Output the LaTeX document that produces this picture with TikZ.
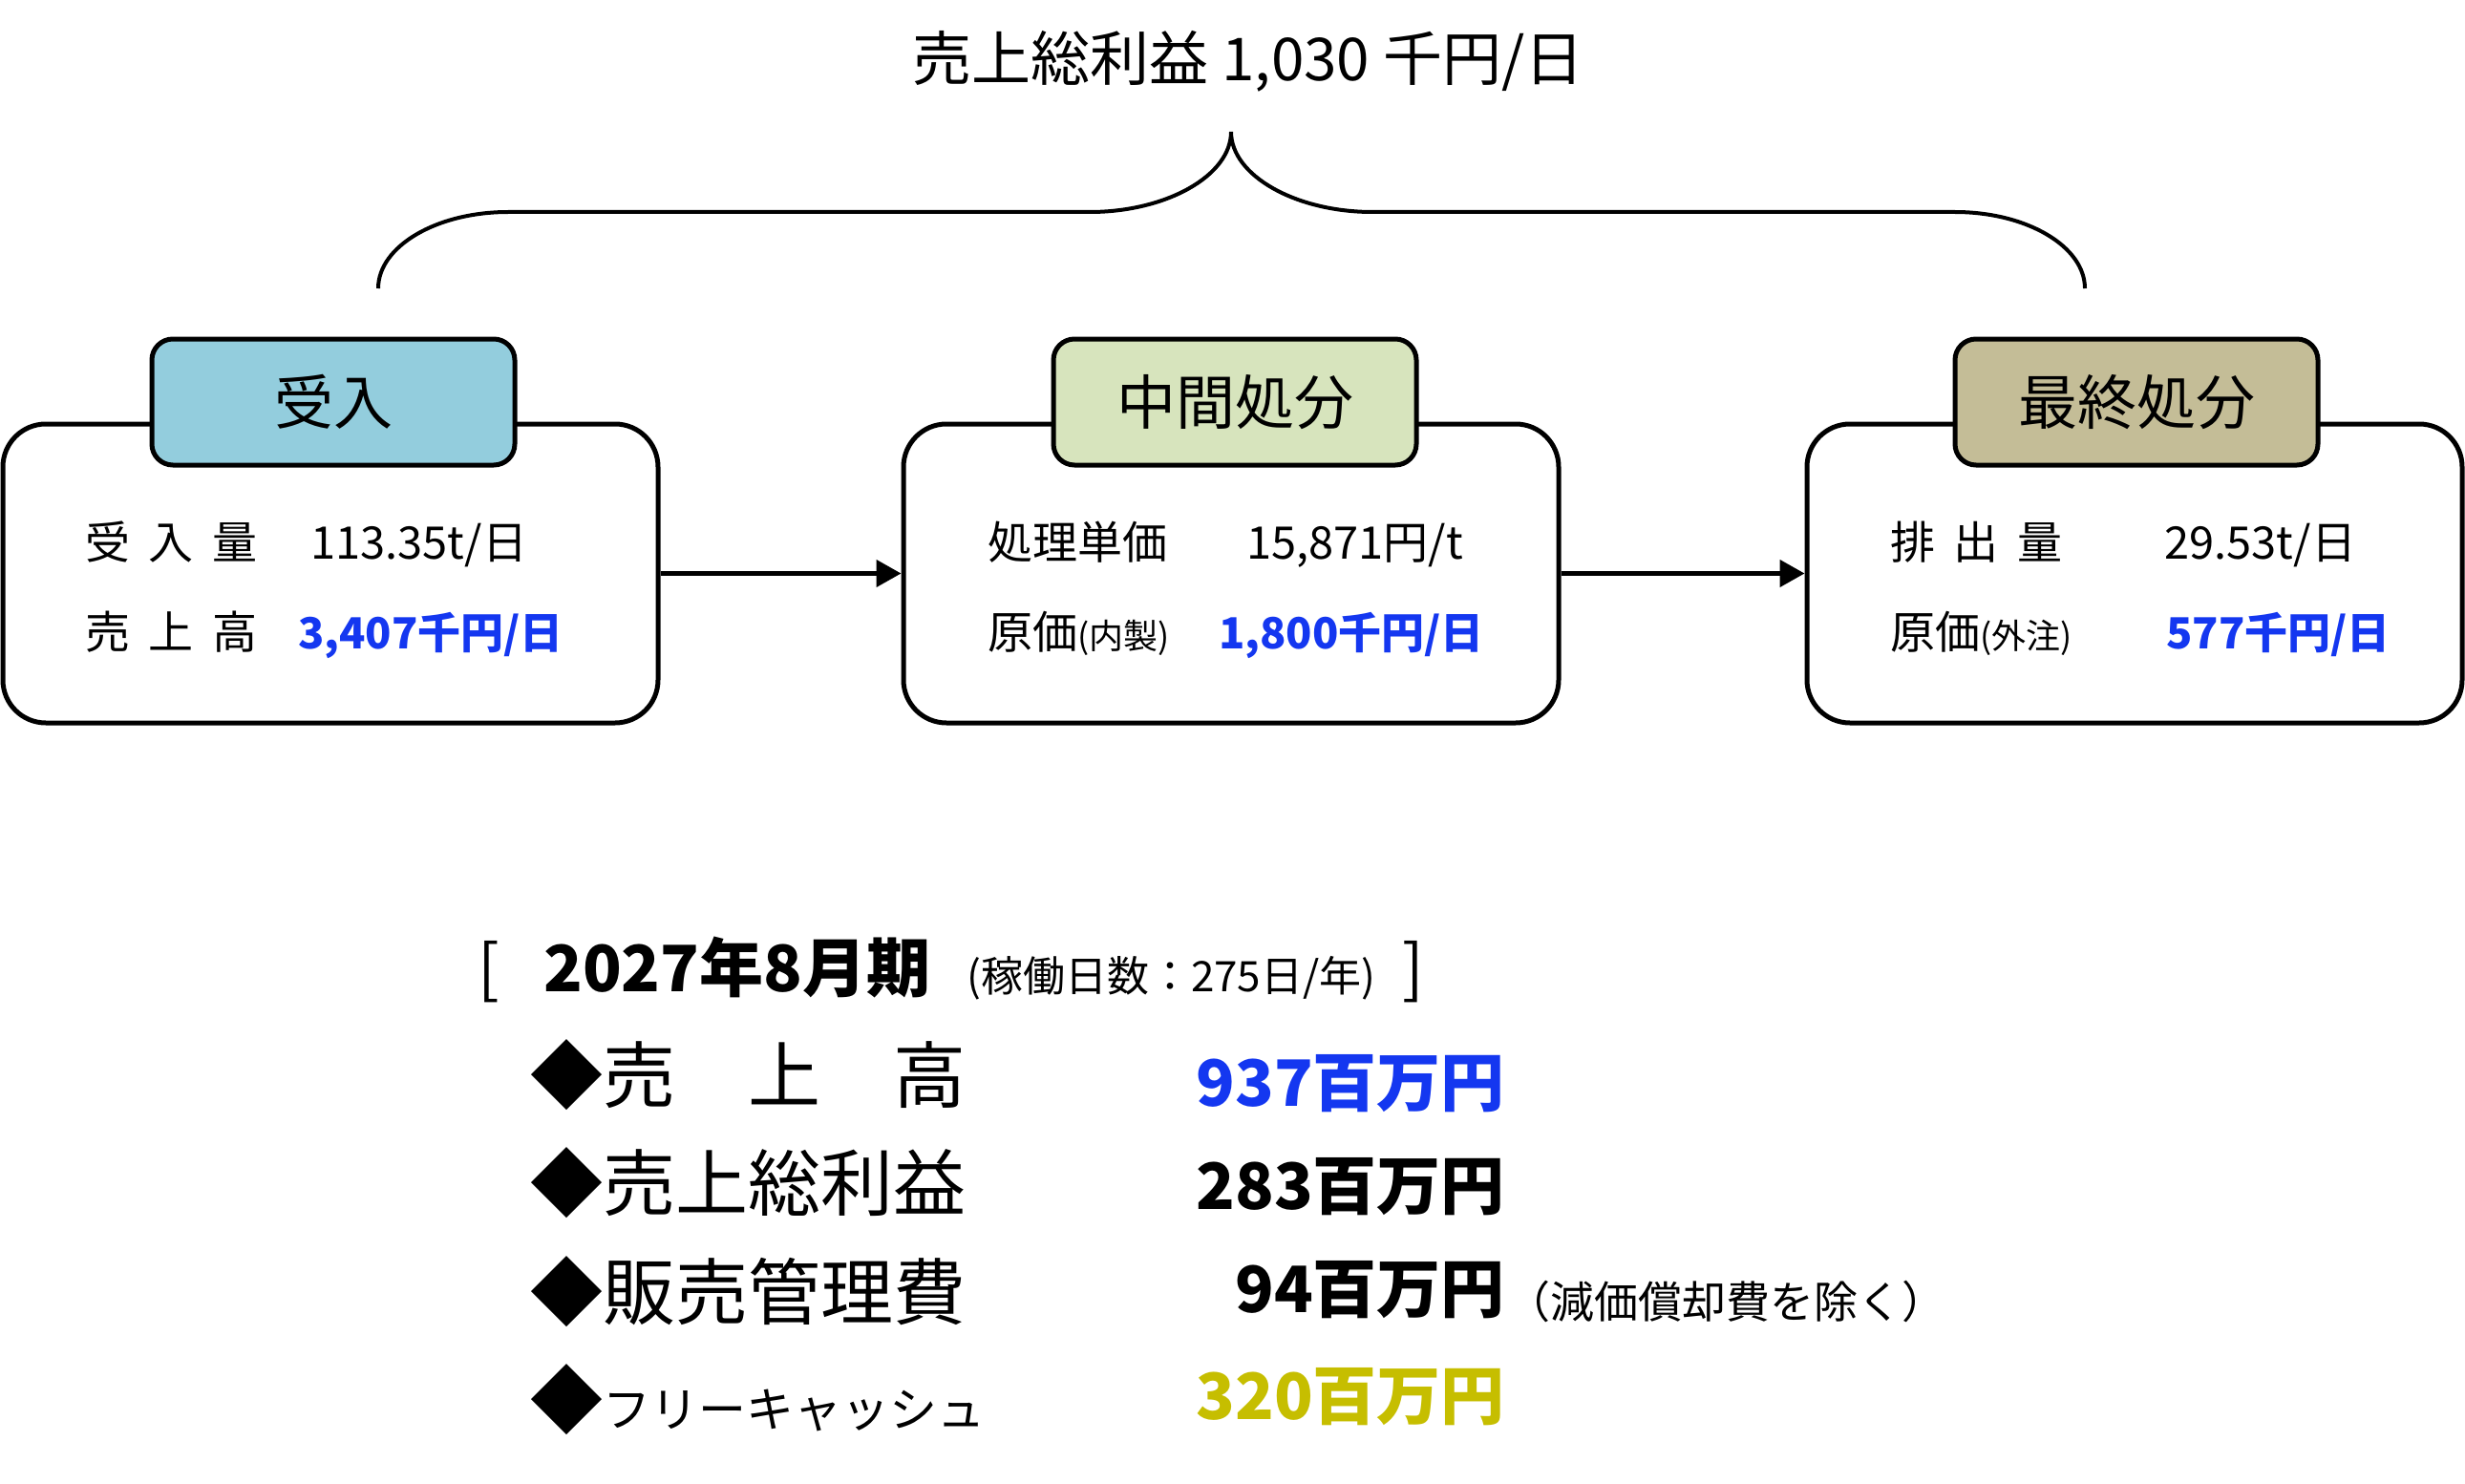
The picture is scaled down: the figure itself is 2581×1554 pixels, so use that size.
\documentclass[tikz,border=0pt]{standalone}
\usepackage{fontspec}
\setmainfont{Noto Sans CJK JP}
\usetikzlibrary{arrows.meta}
\definecolor{hdrA}{RGB}{147,205,221}
\definecolor{hdrB}{RGB}{215,228,189}
\definecolor{hdrC}{RGB}{196,189,151}
\definecolor{valblue}{RGB}{20,55,240}
\definecolor{valolive}{RGB}{198,190,0}
\newcommand{\fsz}[1]{\fontsize{#1}{#1}\selectfont}
\begin{document}
\begin{tikzpicture}[x=1pt,y=-1pt,
 outerbox/.style={draw,line width=5pt,rounded corners=45pt,minimum width=686pt,minimum height=313pt,inner sep=0pt},
 hdrbox/.style={draw,line width=5pt,rounded corners=22pt,minimum width=380pt,minimum height=132pt,inner sep=0pt,font=\fsz{62}},
 txt/.style={inner sep=0pt,anchor=base west,font=\fsz{47}},
 bval/.style={inner sep=0pt,anchor=base west,font=\fsz{45}\bfseries,text=valblue},
 rowlab/.style={inner sep=0pt,anchor=base west,font=\fsz{76}},
 rowval/.style={inner sep=0pt,anchor=base east,font=\fsz{67}\bfseries},
 flow/.style={line width=4.5pt,-{Triangle[length=26pt,width=28pt]}},
]
\useasboundingbox (0,0) rectangle (2581,1554);
% title and brace
\node[inner sep=0pt,anchor=base,font=\fsz{62}] (title) at (1307,85) {売上総利益 1,030 千円/日};
\coordinate (brL) at (396,302);
\coordinate (brT) at (1289,138);
\coordinate (brR) at (2183,302);
\draw[line width=4pt] (brL) .. controls (396,258) and (457,222) .. (532,222) -- (1141,222)
  .. controls (1221,222) and (1289,184) .. (brT)
  .. controls (1289,184) and (1357,222) .. (1437,222) -- (2047,222)
  .. controls (2122,222) and (2183,258) .. (brR);
% boxes
\node[outerbox] (b1) at (346,600.5) {};
\node[outerbox] (b2) at (1289,600.5) {};
\node[outerbox] (b3) at (2235,600.5) {};
\node[hdrbox,fill=hdrA] (h1) at (349,421) {受入};
\node[hdrbox,fill=hdrB] (h2) at (1293,421) {中間処分};
\node[hdrbox,fill=hdrC] (h3) at (2237,421) {最終処分};
\draw[flow] (b1.east) -- (b2.west);
\draw[flow] (b2.east) -- (b3.west);
% box texts
\node[txt] (t11) at (89,585) {受\hspace{0.42em}入\hspace{0.42em}量};
\node[txt] (v11) at (325,585) {113.35t/日};
\node[txt] (t12) at (89,679) {売\hspace{0.42em}上\hspace{0.42em}高};
\node[bval] (v12) at (312,679) {3,407千円/日};
\node[txt] (t21) at (1034,585) {処理単価};
\node[txt] (v21) at (1305,585) {15,871円/t};
\node[txt] (t22) at (1034,679) {原価{\fsz{36}(内製)}};
\node[bval] (v22) at (1276,679) {1,800千円/日};
\node[txt] (t31) at (1979,585) {排\hspace{0.42em}出\hspace{0.42em}量};
\node[txt] (v31) at (2266,585) {29.53t/日};
\node[txt] (t32) at (1979,679) {原価{\fsz{36}(外注)}};
\node[bval] (v32) at (2268,679) {577千円/日};
% bottom summary
\node[inner sep=0pt,anchor=base west,font=\fsz{67}] (lbr) at (500,1038) {[};
\node[inner sep=0pt,anchor=base west,font=\fsz{67}\bfseries] (period) at (569,1038) {2027年8月期};
\node[inner sep=0pt,anchor=base west,font=\fsz{44}] (days) at (1012,1038) {(稼働日数：275日/年)};
\node[inner sep=0pt,anchor=base west,font=\fsz{67}] (rbr) at (1468,1038) {]};
\node[rowlab] (r1) at (555,1154) {◆売　上　高};
\node[rowlab] (r2) at (555,1267) {◆売上総利益};
\node[rowlab] (r3) at (555,1381) {◆販売管理費};
\node[rowlab] (r4) at (555,1494) {◆{\fsz{50}フリーキャッシュ}};
\node[rowval,text=valblue] (n1) at (1576,1158) {937百万円};
\node[rowval] (n2) at (1576,1266) {283百万円};
\node[rowval] (n3) at (1576,1374) {94百万円};
\node[rowval,text=valolive] (n4) at (1576,1486) {320百万円};
\node[inner sep=0pt,anchor=base west,font=\fsz{46}] (note) at (1577,1380) {（減価償却費を除く）};
\end{tikzpicture}
\end{document}
